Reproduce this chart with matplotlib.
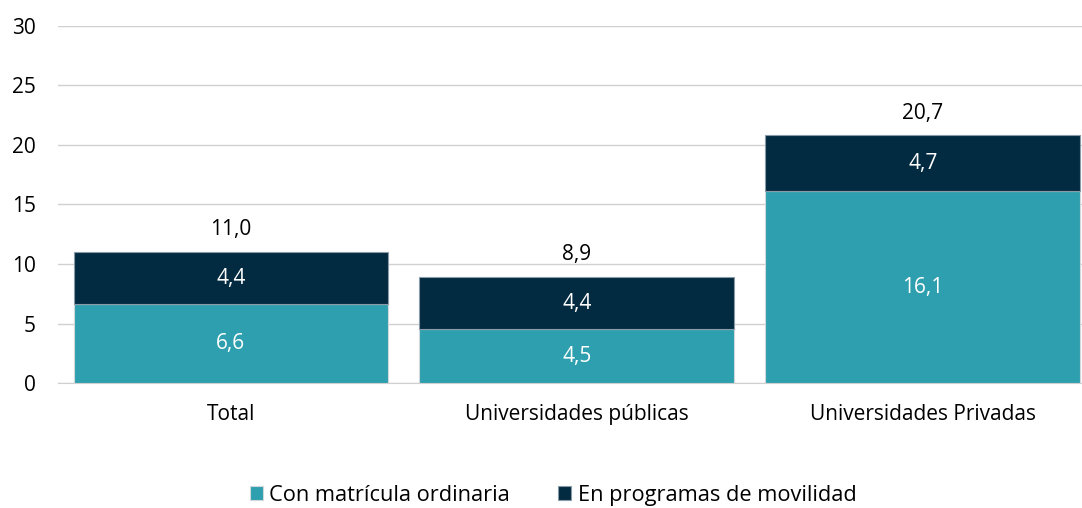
import matplotlib.pyplot as plt
import numpy as np

plt.rcParams['font.family'] = ['Open Sans', 'DejaVu Sans']

categorias = ['Total', 'Universidades públicas', 'Universidades Privadas']
ordinaria = [6.6, 4.5, 16.1]
movilidad = [4.4, 4.4, 4.7]
totales = [11.0, 8.9, 20.7]

c_ord = '#2E9FAE'
c_mov = '#022A40'
fs = 15

fig = plt.figure(figsize=(10.82, 5.08), dpi=100)
ax = fig.add_axes([0.0536, 0.246, 0.959, 0.703])

x = np.arange(len(categorias))
w = 0.91
b1 = ax.bar(x, ordinaria, w, color=c_ord, edgecolor='#D0D8DC', linewidth=0.8,
            label='Con matrícula ordinaria', zorder=3)
b2 = ax.bar(x, movilidad, w, bottom=ordinaria, color=c_mov, edgecolor='#8A9AA6',
            linewidth=0.8, label='En programas de movilidad', zorder=3)

for i in range(len(x)):
    ax.text(x[i], ordinaria[i] / 2, f'{ordinaria[i]:.1f}'.replace('.', ','),
            ha='center', va='center', color='white', fontsize=fs, zorder=4)
    ax.text(x[i], ordinaria[i] + movilidad[i] / 2, f'{movilidad[i]:.1f}'.replace('.', ','),
            ha='center', va='center', color='white', fontsize=fs, zorder=4)
    ax.text(x[i], totales[i] + 1.9, f'{totales[i]:.1f}'.replace('.', ','),
            ha='center', va='center', color='black', fontsize=fs, zorder=4)

ax.set_xlim(-0.5, 2.5)
ax.set_ylim(0, 30)
ax.set_yticks([0, 5, 10, 15, 20, 25, 30])
ax.set_xticks(x)
ax.set_xticklabels(categorias)
ax.yaxis.grid(True, color='#D0D0D0', linewidth=1, zorder=0)
ax.tick_params(axis='y', length=0, pad=16, labelsize=fs)
ax.tick_params(axis='x', length=0, pad=15, labelsize=fs)
for s in ['top', 'right', 'left']:
    ax.spines[s].set_visible(False)
ax.spines['bottom'].set_color('#D0D0D0')

fig.legend(handles=[b1, b2], loc='center', bbox_to_anchor=(0.511, 0.025),
           ncol=2, frameon=False, fontsize=15.7, handlelength=0.6,
           handleheight=0.6, handletextpad=0.3, columnspacing=2.2)

fig.savefig('out.png', dpi=100)
